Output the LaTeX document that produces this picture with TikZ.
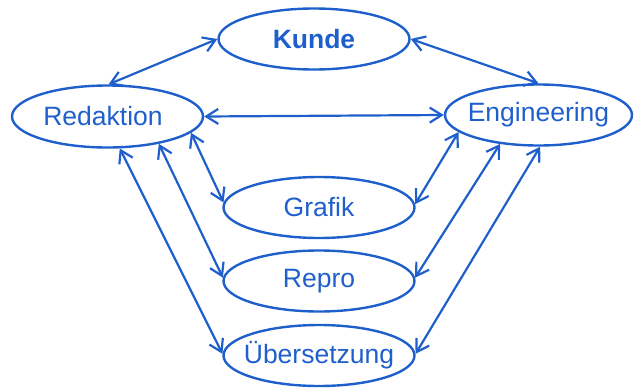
\documentclass[tikz,border=0pt]{standalone}
\usepackage{fontspec}
\setmainfont{Liberation Sans}
\usetikzlibrary{shapes.geometric,arrows.meta}
\definecolor{myblue}{RGB}{31,95,204}
\begin{document}
\begin{tikzpicture}[x=1pt,y=-1pt,
  ell/.style={ellipse, draw=myblue, line width=2.4pt, inner sep=0pt,
    minimum width=191pt, minimum height=61pt, text=myblue,
    font=\fontsize{26.5}{30}\selectfont},
  conn/.style={draw=myblue, line width=2.2pt,
    {Straight Barb[length=12pt,width=15pt,line width=2.2pt]}-{Straight Barb[length=12pt,width=15pt,line width=2.2pt]}}]
\useasboundingbox (0,0) rectangle (634,389);
\node[ell, font=\fontsize{26.5}{30}\selectfont\bfseries] (kunde) at (314,39) {\makebox[0pt]{Kunde}};
\node[ell, minimum height=62pt] (red) at (107.5,116.5) {\makebox[0pt]{Redaktion\hspace{9pt}}};
\node[ell, minimum width=187pt] (eng) at (538.5,115) {\makebox[0pt]{Engineering}};
\node[ell] (graf) at (319,207.5) {\makebox[0pt]{Grafik}};
\node[ell] (repro) at (319,281) {\makebox[0pt]{Repro}};
\node[ell] (ueb) at (319,355.5) {\makebox[0pt]{Übersetzung}};
\draw[conn] (kunde.180) -- (red.88);
\draw[conn] (kunde.0) -- (eng.90);
\draw[conn] (red.0) -- (eng.180);
\draw[conn] (red.-11) -- (graf.177);
\draw[conn] (red.-28) -- (repro.178);
\draw[conn] (red.-69) -- (ueb.179);
\draw[conn] (eng.-168.5) -- (graf.2);
\draw[conn] (eng.-143) -- (repro.2);
\draw[conn] (eng.-87) -- (ueb.1);
\end{tikzpicture}
\end{document}
